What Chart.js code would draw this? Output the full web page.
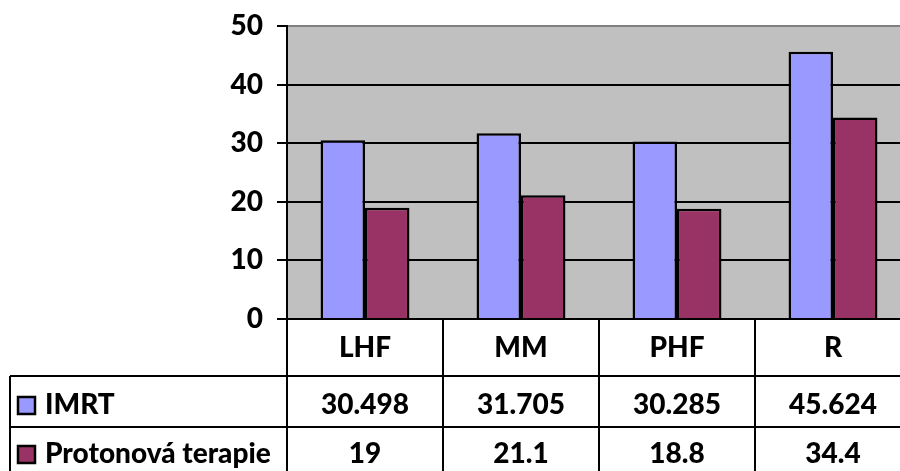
<!DOCTYPE html>
<html>
<head>
<meta charset="utf-8">
<script src="https://cdn.jsdelivr.net/npm/chart.js@4/dist/chart.umd.min.js"></script>
<style>
  html, body { margin: 0; padding: 0; background: #fff; overflow: hidden; }
  canvas { display: block; }
</style>
</head>
<body>
<canvas id="c" width="912" height="471"></canvas>
<script>
// Categories and series values
const categories = ['LHF', 'MM', 'PHF', 'R'];
const imrtValues = [30.498, 31.705, 30.285, 45.624];
const protonValues = [19, 21.1, 18.8, 34.4];
const seriesNames = ['IMRT', 'Protonová terapie'];
const seriesColors = ['#9999FF', '#993366'];
const yTicks = [0, 10, 20, 30, 40, 50];

const FONT = 'Lato, "Open Sans", sans-serif';
const WEIGHT = '900';
const SIZE = 28;

// Draws the data table under the plot area: category row plus one row per series
const dataTable = {
  id: 'dataTable',
  afterDraw(chart) {
    const ctx = chart.ctx;
    const area = chart.chartArea;
    const x = chart.scales.x;
    const n = categories.length;
    const colW = (area.right - area.left) / n;
    const rowTops = [area.bottom, area.bottom + 57, area.bottom + 108, area.bottom + 160];
    const legendLeft = 10;
    const series = [imrtValues, protonValues];

    ctx.save();
    ctx.strokeStyle = '#000';
    ctx.lineWidth = 2;
    ctx.beginPath();
    // horizontal rules
    ctx.moveTo(area.left, rowTops[0]); ctx.lineTo(area.right, rowTops[0]);
    ctx.moveTo(legendLeft, rowTops[1]); ctx.lineTo(area.right, rowTops[1]);
    ctx.moveTo(legendLeft, rowTops[2]); ctx.lineTo(area.right, rowTops[2]);
    // vertical rules
    for (let i = 0; i <= n; i++) {
      const vx = area.left + i * colW;
      ctx.moveTo(vx, rowTops[0]); ctx.lineTo(vx, rowTops[3]);
    }
    ctx.moveTo(legendLeft, rowTops[1]); ctx.lineTo(legendLeft, rowTops[3]);
    ctx.stroke();

    ctx.fillStyle = '#000';
    ctx.font = WEIGHT + ' ' + SIZE + 'px ' + FONT;
    ctx.textAlign = 'center';
    ctx.textBaseline = 'middle';
    const rowMid = [348, 405, 454];
    categories.forEach((c, i) => {
      const cx = x.getPixelForValue(i);
      ctx.fillText(c, cx, rowMid[0]);
      series.forEach((vals, s) => {
        ctx.fillText(String(vals[i]), cx, rowMid[s + 1]);
      });
    });

    // legend keys and series names
    ctx.textAlign = 'left';
    seriesNames.forEach((name, s) => {
      const my = rowMid[s + 1];
      ctx.fillStyle = seriesColors[s];
      ctx.fillRect(18, my - 8, 17, 17);
      ctx.strokeStyle = '#000';
      ctx.lineWidth = 2.5;
      ctx.strokeRect(18, my - 8, 17, 17);
      ctx.fillStyle = '#000';
      ctx.fillText(name, 45, my);
    });
    ctx.restore();
  }
};

// Grey fill behind the plot area
const plotBackground = {
  id: 'plotBackground',
  beforeDraw(chart) {
    const { ctx, chartArea: a } = chart;
    ctx.save();
    ctx.fillStyle = '#C0C0C0';
    ctx.fillRect(a.left, a.top, a.right - a.left, a.bottom - a.top);
    ctx.restore();
  }
};

new Chart(document.getElementById('c'), {
  type: 'bar',
  data: {
    labels: categories,
    datasets: [
      { label: seriesNames[0], data: imrtValues, backgroundColor: seriesColors[0], borderColor: '#000', borderWidth: 2.5 },
      { label: seriesNames[1], data: protonValues, backgroundColor: seriesColors[1], borderColor: '#000', borderWidth: 2.5 }
    ]
  },
  options: {
    responsive: false,
    animation: false,
    layout: { padding: { top: 26, right: 1, bottom: 152, left: 0 } },
    datasets: { bar: { categoryPercentage: 0.57, barPercentage: 1 } },
    plugins: { legend: { display: false }, tooltip: { enabled: false } },
    scales: {
      x: { display: false },
      y: {
        min: 0, max: 50,
        afterFit(scale) { scale.width = 287; scale.paddingTop = 0; scale.paddingBottom = 0; },
        afterBuildTicks(scale) { scale.ticks = yTicks.map(v => ({ value: v })); },
        ticks: { color: '#000', padding: 14, font: { family: FONT, size: SIZE, weight: WEIGHT } },
        grid: {
          lineWidth: 2,
          color: ctx => (ctx.tick && ctx.tick.value === 50 ? '#808080' : '#000'),
          tickColor: '#000',
          tickLength: 10
        },
        border: { display: true, color: '#000', width: 2 }
      }
    }
  },
  plugins: [plotBackground, dataTable]
});
</script>
</body>
</html>
